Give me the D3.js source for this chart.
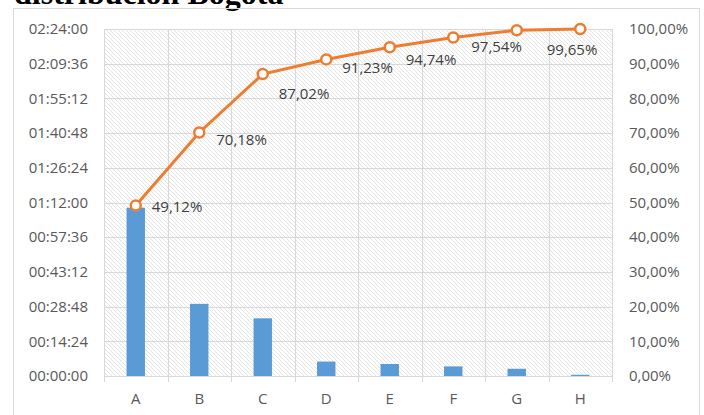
<!DOCTYPE html>
<html>
<head>
<meta charset="utf-8">
<script src="https://cdn.jsdelivr.net/npm/d3@7"></script>
<style>
  body { margin: 0; background: #fff; }
  svg { display: block; }
</style>
</head>
<body>
<div id="chart"></div>
<script>
// categories and values (time in seconds, cumulative share in %)
var categories = ['A', 'B', 'C', 'D', 'E', 'F', 'G', 'H']
var durations = [4190, 1796, 1436, 359, 299, 239, 180, 30]
var cumulative = [49.12, 70.18, 87.02, 91.23, 94.74, 97.54, 99.65, 100]
var labelText = ['49,12%', '70,18%', '87,02%', '91,23%', '94,74%', '97,54%', '99,65%', '']
var timeTicks = d3.range(0, 8640 + 1, 864)
var pctTicks = d3.range(0, 101, 10)

var w = 704
var h = 415

var margins = { left: 104, right: 92, top: 29, bottom: 39 }

var svg = d3.select('#chart').append('svg')
  .attr('width', w)
  .attr('height', h)
  .style('font-family', '"Open Sans", sans-serif')

// hatch fill of the plot area
var defs = svg.append('defs')
defs.append('pattern')
  .attr('id', 'hatch')
  .attr('patternUnits', 'userSpaceOnUse')
  .attr('width', 4)
  .attr('height', 4)
  .append('path')
  .attr('d', 'M-1,-1L5,5M3,-1L5,1M-1,3L1,5')
  .attr('stroke', '#dedede')
  .attr('stroke-width', 0.8)

// title, cut off at the top as in the original
svg.append('text')
  .attr('x', 14)
  .attr('y', 4)
  .attr('font-family', '"Liberation Serif", serif')
  .attr('font-weight', 'bold')
  .attr('font-size', 32)
  .attr('fill', '#000')
  .text('distribución Bogotá')

// chart frame
svg.append('rect')
  .attr('x', 13.5).attr('y', 8.5)
  .attr('width', 686).attr('height', 420)
  .attr('fill', 'none')
  .attr('stroke', '#d9d9d9')

var x = d3.scaleBand().domain(categories).range([margins.left, w - margins.right])
var yTime = d3.scaleLinear().domain([0, 8640]).range([h - margins.bottom, margins.top])
var yPct = d3.scaleLinear().domain([0, 100]).range([h - margins.bottom, margins.top])

svg.append('rect')
  .attr('x', margins.left)
  .attr('y', margins.top)
  .attr('width', w - margins.right - margins.left)
  .attr('height', h - margins.bottom - margins.top)
  .attr('fill', 'url(#hatch)')

// horizontal grid
timeTicks.forEach(function (t) {
  svg.append('line')
    .attr('x1', margins.left).attr('x2', w - margins.right)
    .attr('y1', Math.round(yTime(t)) + 0.5).attr('y2', Math.round(yTime(t)) + 0.5)
    .attr('stroke', '#d9d9d9')
})

// vertical grid at band edges, with ticks below the axis
var edges = categories.map(function (c) { return x(c) }).concat([x.range()[1]])
edges.forEach(function (e) {
  svg.append('line')
    .attr('x1', Math.round(e) + 0.5).attr('x2', Math.round(e) + 0.5)
    .attr('y1', margins.top).attr('y2', h - margins.bottom + 6)
    .attr('stroke', '#d9d9d9')
})

function fmtTime (s) {
  var hh = Math.floor(s / 3600)
  var mm = Math.floor((s % 3600) / 60)
  var ss = s % 60
  return [hh, mm, ss].map(function (v) { return (v < 10 ? '0' : '') + v }).join(':')
}

// left axis labels
svg.append('g').selectAll('text').data(timeTicks).join('text')
  .attr('x', 88)
  .attr('y', function (d) { return yTime(d) })
  .attr('dy', '0.35em')
  .attr('text-anchor', 'end')
  .attr('font-size', 15)
  .attr('fill', '#595959')
  .text(fmtTime)

// right axis labels
svg.append('g').selectAll('text').data(pctTicks).join('text')
  .attr('x', 629)
  .attr('y', function (d) { return yPct(d) })
  .attr('dy', '0.35em')
  .attr('font-size', 15)
  .attr('fill', '#595959')
  .text(function (d) { return d + ',00%' })

// category labels
svg.append('g').selectAll('text').data(categories).join('text')
  .attr('x', function (d) { return x(d) + x.bandwidth() / 2 })
  .attr('y', 399)
  .attr('dy', '0.35em')
  .attr('text-anchor', 'middle')
  .attr('font-size', 15)
  .attr('fill', '#595959')
  .text(function (d) { return d })

// bars
var barW = x.bandwidth() * 0.29
svg.append('g').selectAll('rect').data(durations).join('rect')
  .attr('x', function (d, i) { return x(categories[i]) + x.bandwidth() / 2 - barW / 2 })
  .attr('y', function (d) { return yTime(d) })
  .attr('width', barW)
  .attr('height', function (d) { return yTime(0) - yTime(d) })
  .attr('fill', '#5b9bd5')

// cumulative line
var line = d3.line()
  .x(function (d, i) { return x(categories[i]) + x.bandwidth() / 2 })
  .y(function (d) { return yPct(d) })

svg.append('path')
  .datum(cumulative)
  .attr('d', line)
  .attr('fill', 'none')
  .attr('stroke', '#ed7d31')
  .attr('stroke-width', 3)

svg.append('g').selectAll('circle').data(cumulative).join('circle')
  .attr('cx', function (d, i) { return x(categories[i]) + x.bandwidth() / 2 })
  .attr('cy', function (d) { return yPct(d) })
  .attr('r', 5)
  .attr('fill', '#fff')
  .attr('stroke', '#ed7d31')
  .attr('stroke-width', 2.5)

// data labels, nudged the way the spreadsheet placed them
var nudgeX = [16, 17, 16, 16, 16, 18, 30, 0]
var nudgeY = [1, 7, 20, 8, 12, 9, 20, 0]
svg.append('g').selectAll('text').data(cumulative).join('text')
  .attr('x', function (d, i) { return x(categories[i]) + x.bandwidth() / 2 + nudgeX[i] })
  .attr('y', function (d, i) { return yPct(d) + nudgeY[i] })
  .attr('dy', '0.35em')
  .attr('font-size', 15)
  .attr('fill', '#404040')
  .text(function (d, i) { return labelText[i] })
</script>
</body>
</html>
